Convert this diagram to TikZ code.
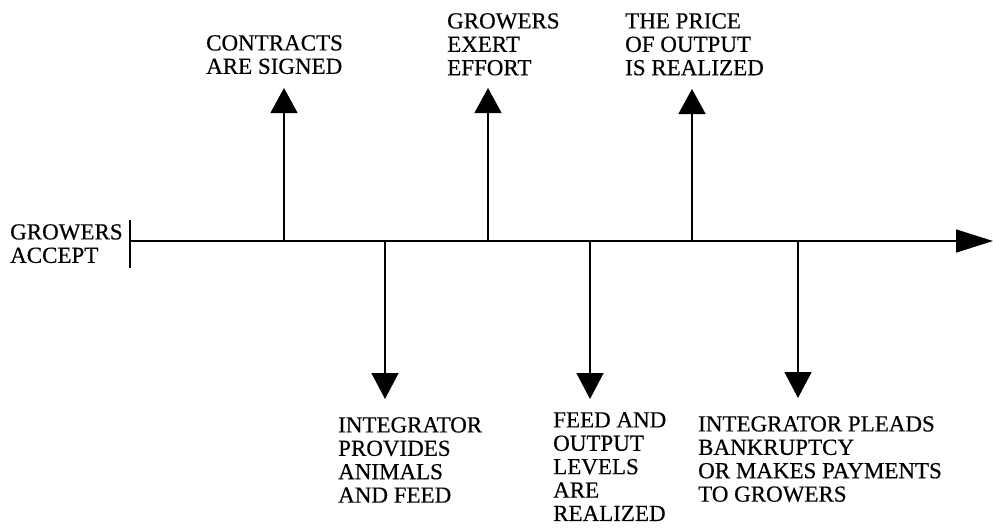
\documentclass[tikz,border=0pt]{standalone}
\usepackage{fontspec}
\setmainfont{Liberation Serif}[FakeBold=0.4]
\usetikzlibrary{arrows.meta, positioning}

\begin{document}
\begin{tikzpicture}[
  x=1pt, y=-1pt,
  event/.style={align=left, anchor=north west, inner sep=0pt,
                font=\fontsize{23}{23.4}\selectfont},
  up/.style={-{Triangle[length=25pt, width=27pt]}, line width=1.5pt},
  down/.style={-{Triangle[length=26pt, width=27pt]}, line width=1.5pt}
]
\useasboundingbox (0,0) rectangle (993,530);

% time line
\coordinate (start) at (130,241);
\coordinate (end) at (993,241);
\coordinate (tick top) at (130,220);
\coordinate (tick bottom) at (130,268);
\draw[line width=1.5pt] (tick top) -- (tick bottom);
\draw[line width=1.5pt, -{Triangle[length=37pt, width=23pt]}] (start) -- (end);

\node[event] (accept) at (10,224) {GROWERS\\ACCEPT};

% events above the line
\coordinate (signed) at (284,241);
\coordinate (signed tip) at (284,88);
\coordinate (effort) at (488,241);
\coordinate (effort tip) at (488,88);
\coordinate (price) at (692,241);
\coordinate (price tip) at (692,89);

\node[event] (contracts) at (206,35) {CONTRACTS\\ARE SIGNED};
\node[event] (exert) at (447,13) {GROWERS\\EXERT\\EFFORT};
\node[event] (realized) at (625,13) {THE PRICE\\OF OUTPUT\\IS REALIZED};

\draw[up] (signed) -- (signed tip);
\draw[up] (effort) -- (effort tip);
\draw[up] (price) -- (price tip);

% events below the line
\coordinate (animals) at (385,241);
\coordinate (animals tip) at (385,399);
\coordinate (levels) at (590,241);
\coordinate (levels tip) at (590,399);
\coordinate (payments) at (798,241);
\coordinate (payments tip) at (798,398);

\node[event] (provides) at (338,417) {INTEGRATOR\\PROVIDES\\ANIMALS\\AND FEED};
\node[event] (output) at (553,412) {FEED AND\\OUTPUT\\LEVELS\\ARE\\REALIZED};
\node[event] (pleads) at (698,416) {INTEGRATOR PLEADS\\BANKRUPTCY\\OR MAKES PAYMENTS\\TO GROWERS};

\draw[down] (animals) -- (animals tip);
\draw[down] (levels) -- (levels tip);
\draw[down] (payments) -- (payments tip);
\end{tikzpicture}
\end{document}
